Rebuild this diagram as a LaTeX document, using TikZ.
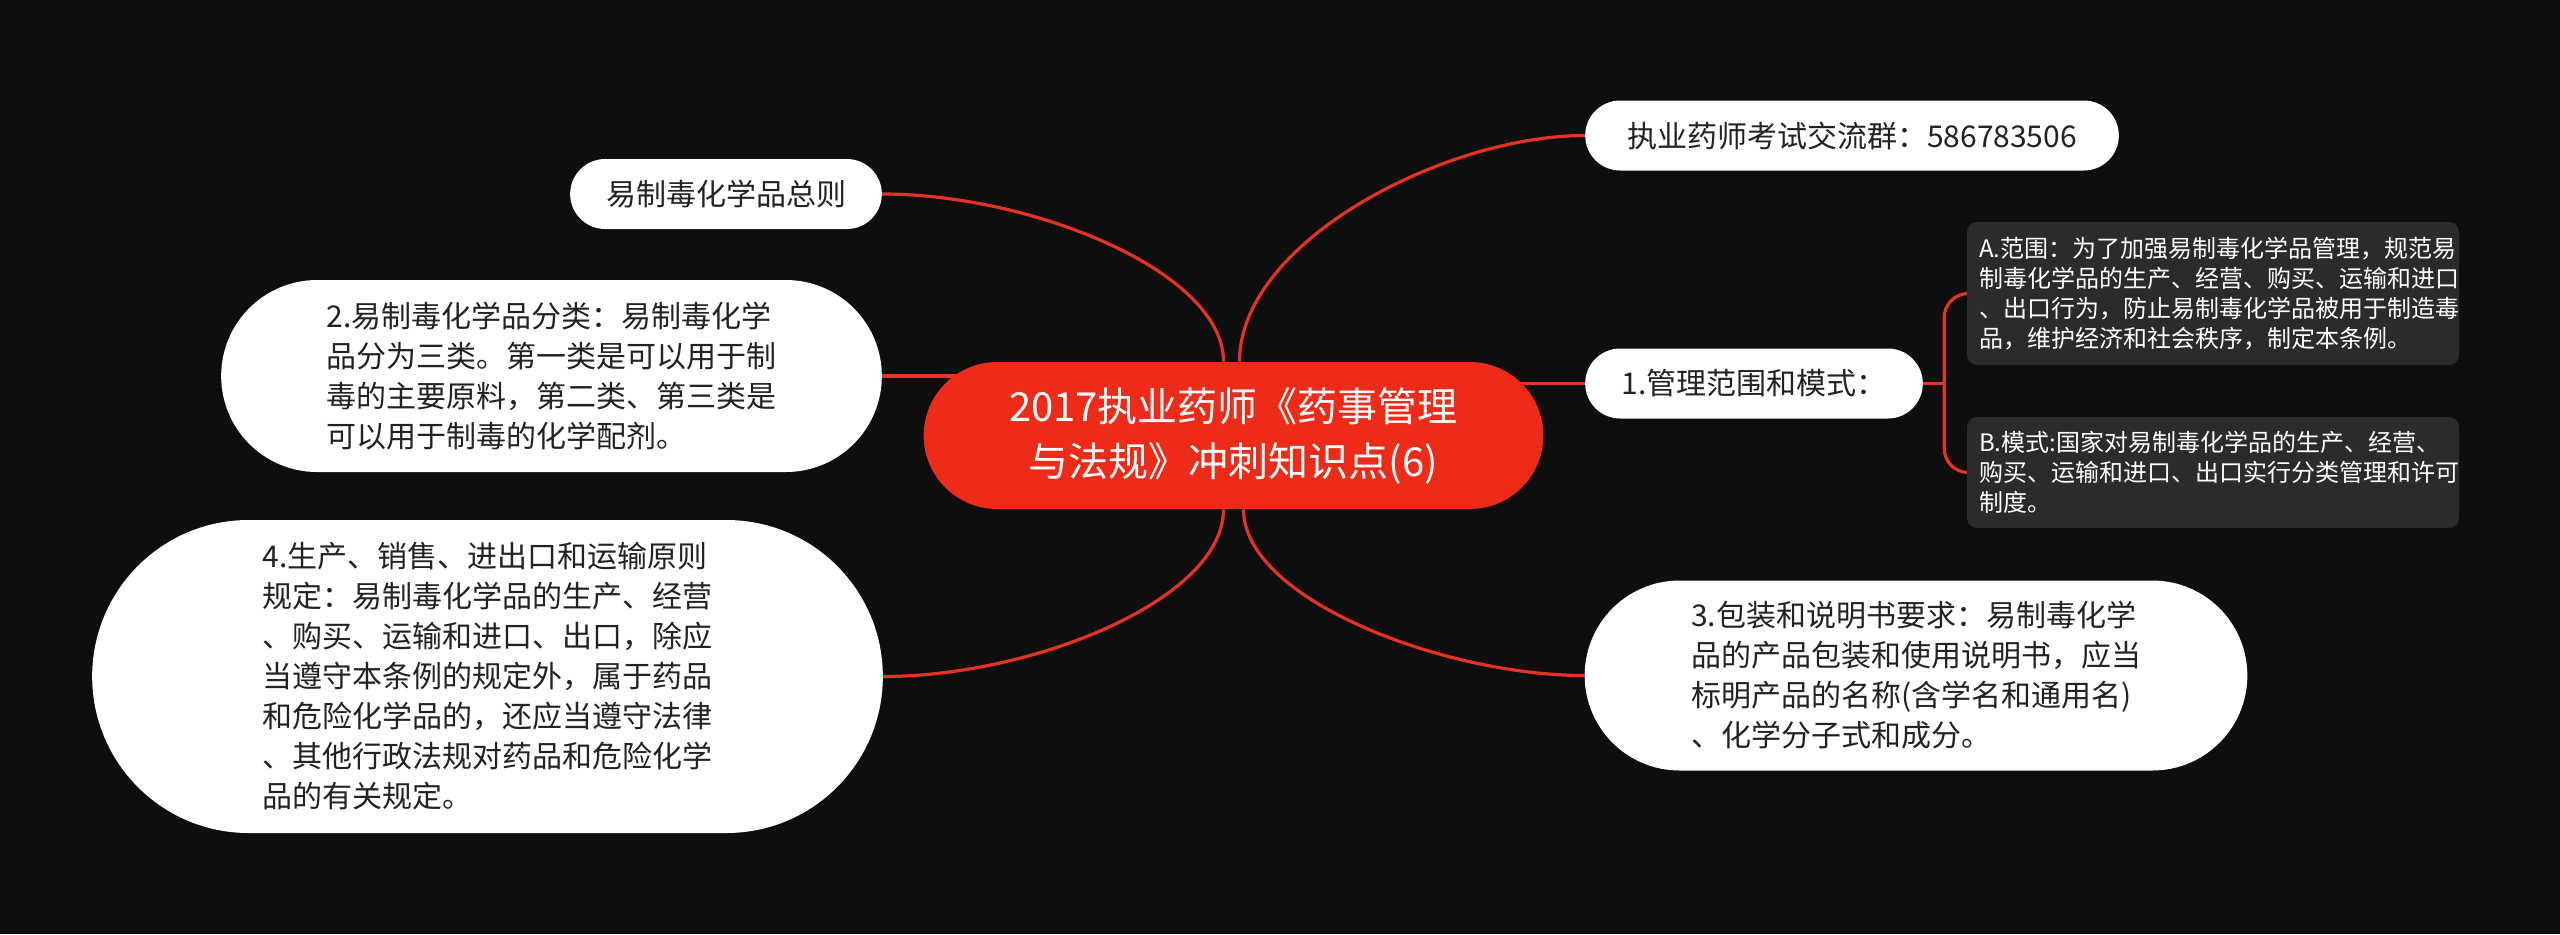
\documentclass[tikz,border=0pt]{standalone}
\usepackage{fontspec}
\setmainfont{Noto Sans CJK SC}
\usetikzlibrary{shapes.misc}
\definecolor{a}{RGB}{14, 14, 14}
\definecolor{b}{RGB}{238, 42, 24}
\definecolor{c}{RGB}{230, 50, 35}
\definecolor{d}{RGB}{43, 43, 43}
\definecolor{e}{RGB}{34, 34, 34}
\pgfdeclarelayer{fond}
\pgfdeclarelayer{liens}
\pgfsetlayers{fond,liens,main}

\begin{document}
\begin{tikzpicture}[x=0.5pt,y=-0.5pt,
	racine/.style={rounded rectangle, fill=b, text=white, align=center, font=\fontsize{20pt}{27.5pt}\selectfont},
	bulle/.style={rounded rectangle, fill=white, text=e, align=left, font=\fontsize{15pt}{20pt}\selectfont},
	boite/.style={rectangle, rounded corners=5pt, fill=d, text=white, align=left, text width=234pt, inner xsep=6pt, font=\fontsize{12pt}{15pt}\selectfont},
	lien/.style={draw=c, line width=1.6pt}]
	\useasboundingbox (0,0) rectangle (2560,934);
	\begin{pgfonlayer}{fond}
		\fill[a] (0,0) rectangle (2560,934); % le fond
	\end{pgfonlayer}
	\node[racine, minimum width=316.5pt, minimum height=73.5pt] (racine) at (1233.5,435.5) {2017执业药师《药事管理\\与法规》冲刺知识点(6)};
	\node[bulle, minimum width=273.5pt, minimum height=35pt] (groupe) at (1852,135.5) {执业药师考试交流群：586783506};
	\node[bulle, minimum width=162.5pt, minimum height=35pt] (total) at (726,194) {易制毒化学品总则};
	\node[bulle, minimum width=337pt, minimum height=96pt] (classe) at (551.5,376) {2.易制毒化学品分类：易制毒化学\\品分为三类。第一类是可以用于制\\毒的主要原料，第二类、第三类是\\可以用于制毒的化学配剂。};
	\node[bulle, minimum width=175.5pt, minimum height=35pt] (gestion) at (1754,383.5) {1.管理范围和模式：};
	\node[boite, minimum height=71.5pt] (portee) at (2213,293.5) {A.范围：为了加强易制毒化学品管理，规范易\\制毒化学品的生产、经营、购买、运输和进口\\、出口行为，防止易制毒化学品被用于制造毒\\品，维护经济和社会秩序，制定本条例。};
	\node[boite, minimum height=55.5pt] (mode) at (2213,472.5) {B.模式:国家对易制毒化学品的生产、经营、\\购买、运输和进口、出口实行分类管理和许可\\制度。};
	\node[bulle, minimum width=338pt, minimum height=95pt] (emballage) at (1916,675.5) {3.包装和说明书要求：易制毒化学\\品的产品包装和使用说明书，应当\\标明产品的名称(含学名和通用名)\\、化学分子式和成分。};
	\node[bulle, minimum width=402pt, minimum height=156.5pt] (production) at (487.5,676.5) {4.生产、销售、进出口和运输原则\\规定：易制毒化学品的生产、经营\\、购买、运输和进口、出口，除应\\当遵守本条例的规定外，属于药品\\和危险化学品的，还应当遵守法律\\、其他行政法规对药品和危险化学\\品的有关规定。};
	\begin{pgfonlayer}{liens}
		% les branches
		\draw[lien] ([xshift=-5pt]racine.north) .. controls +(0,-90) and +(150,0) .. (total.east);
		\draw[lien] ([xshift=3pt]racine.north) .. controls +(0,-120) and +(-140,0) .. (groupe.west);
		\draw[lien] ([xshift=-5pt]racine.south) .. controls +(0,90) and +(150,0) .. (production.east);
		\draw[lien] ([xshift=5pt]racine.south) .. controls +(0,90) and +(-140,0) .. (emballage.west);
		\draw[lien] (classe.east) -- (classe.east -| racine.center);
		\draw[lien] (gestion.west -| racine.center) -- (gestion.west);
		\draw[lien] (gestion.east) -- ++(21,0) coordinate (fourche);
		\draw[lien, rounded corners=12pt] (fourche) |- (portee.west);
		\draw[lien, rounded corners=12pt] (fourche) |- (mode.west);
	\end{pgfonlayer}
\end{tikzpicture}
\end{document}
